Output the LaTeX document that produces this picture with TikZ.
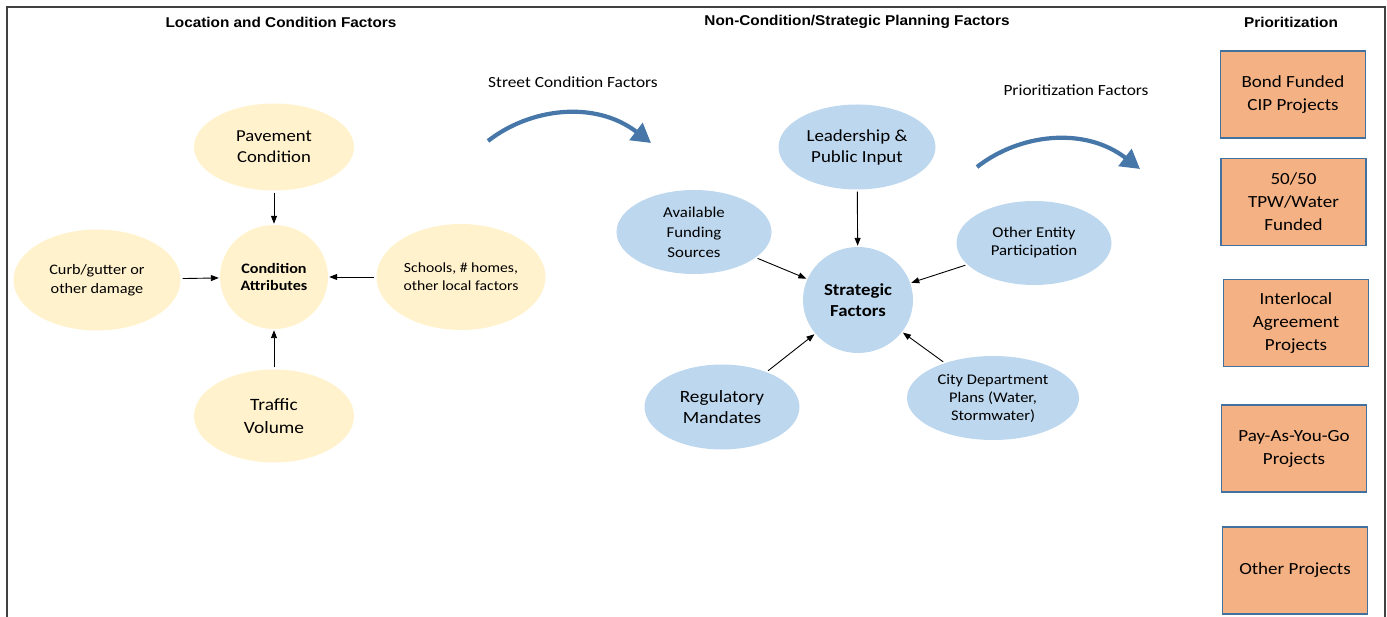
\documentclass[tikz,border=0pt]{standalone}
\usepackage{fontspec}
\setmainfont{Carlito}[FakeStretch=1.12]
\newfontfamily\headfont{Liberation Sans}[FakeStretch=1.08]
\usetikzlibrary{shapes.geometric,arrows.meta}
\definecolor{condfill}{HTML}{FFF2CC}
\definecolor{stratfill}{HTML}{BDD7EE}
\definecolor{prioFill}{HTML}{F4B183}
\definecolor{prioEdge}{HTML}{41719C}
\definecolor{flowblue}{HTML}{4677A8}
\definecolor{framegray}{HTML}{404040}
\newcommand\fsz[2]{\fontsize{#1}{#2}\selectfont}
\tikzset{
  heading/.style={font=\headfont\bfseries\fsz{14.2}{16}, inner sep=0pt},
  flowlabel/.style={font=\fsz{15.5}{18}, inner sep=0pt},
  cond/.style={ellipse, fill=condfill, inner sep=0pt, align=center},
  strat/.style={ellipse, fill=stratfill, inner sep=0pt, align=center},
  prio/.style={rectangle, fill=prioFill, draw=prioEdge, line width=1.6pt,
    minimum width=145pt, minimum height=87pt, inner sep=0pt, align=center,
    font=\fsz{17}{23}},
  feed/.style={-{Triangle[length=8pt,width=6pt]}, line width=0.9pt, shorten <=2pt, shorten >=1pt},
  bigflow/.style={-{Triangle[length=19pt,width=21pt]}, line width=4.2pt, draw=flowblue},
}
\begin{document}
\begin{tikzpicture}[x=1pt,y=-1pt]
\useasboundingbox (0,0) rectangle (1387,617);
% open frame (bottom edge runs off the page)
\draw[framegray, line width=1.3pt] (7,620) -- (7,7) -- (1385,7) -- (1385,620);

% column headings
\node[heading] (h1) at (281,22) {Location and Condition Factors};
\node[heading] (h2) at (857,22) {Non-Condition/Strategic Planning Factors};
\node[heading] (h3) at (1291,22) {Prioritization};

% location and condition factors
\node[cond, font=\fsz{16.7}{21}, minimum width=160pt, minimum height=87pt] (pav) at (274,147) {Pavement\\Condition};
\node[cond, font=\bfseries\fsz{14.4}{17.5}, minimum width=108pt, minimum height=104pt] (ca) at (274,277) {Condition\\Attributes};
\node[cond, font=\fsz{14.5}{19}, minimum width=167pt, minimum height=101pt] (curb) at (97,280) {Curb/gutter or\\other damage};
\node[cond, font=\fsz{14}{18}, minimum width=169pt, minimum height=106pt] (sch) at (461,277) {Schools, \# homes,\\other local factors};
\node[cond, font=\fsz{17.3}{23}, minimum width=160pt, minimum height=93pt] (trf) at (274,416) {Traffic\\Volume};

\draw[feed] (pav) -- (ca);
\draw[feed] (curb) -- (ca);
\draw[feed] (sch) -- (ca);
\draw[feed] (trf) -- (ca);

% strategic planning factors
\node[strat, font=\fsz{16.9}{21}, minimum width=157pt, minimum height=85pt] (lead) at (857,147) {Leadership \&\\Public Input};
\node[strat, font=\fsz{15}{20}, minimum width=155pt, minimum height=84pt] (fund) at (694,232) {Available\\Funding\\Sources};
\node[strat, font=\fsz{15}{18}, minimum width=155pt, minimum height=84pt] (ent) at (1034,243) {Other Entity\\Participation};
\node[strat, font=\bfseries\fsz{16.8}{21}, minimum width=110pt, minimum height=106pt] (sf) at (858,300) {Strategic\\Factors};
\node[strat, font=\fsz{17.2}{21}, minimum width=155pt, minimum height=85pt] (reg) at (722,407) {Regulatory\\Mandates};
\node[strat, font=\fsz{14.7}{18}, minimum width=172pt, minimum height=84pt] (city) at (993,398) {City Department\\Plans (Water,\\Stormwater)};

\draw[feed] (lead) -- (sf);
\draw[feed] (fund) -- (sf);
\draw[feed] (ent) -- (sf);
\draw[feed] (reg) -- (sf);
\draw[feed] (city) -- (sf);

% stage-to-stage flow arrows
\node[flowlabel] (l1) at (573,82) {Street Condition Factors};
\coordinate (s1) at (488,141);
\coordinate (e1) at (651,143);
\draw[bigflow] (s1) .. controls (530,108) and (595,100) .. (e1);

\node[flowlabel] (l2) at (1076,90) {Prioritization Factors};
\coordinate (s2) at (977,167);
\coordinate (e2) at (1140,169);
\draw[bigflow] (s2) .. controls (1019,134) and (1084,126) .. (e2);

% prioritization outcomes
\node[prio] (p1) at (1293,94.5) {Bond Funded\\CIP Projects};
\node[prio] (p2) at (1293.5,202) {50/50\\TPW/Water\\Funded};
\node[prio] (p3) at (1296,323) {Interlocal\\Agreement\\Projects};
\node[prio] (p4) at (1294,448.5) {Pay-As-You-Go\\Projects};
\node[prio] (p5) at (1295,570.5) {Other Projects};
\end{tikzpicture}
\end{document}
